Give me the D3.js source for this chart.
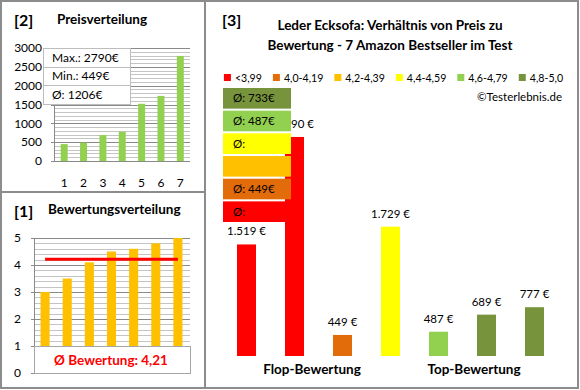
<!DOCTYPE html>
<html><head><meta charset="utf-8">
<script src="https://cdn.jsdelivr.net/npm/d3@7"></script>
<style>
body{margin:0;background:#fff}
svg{display:block}
text{font-family:Lato,"Open Sans",sans-serif;fill:#000}
</style>
</head><body><svg id="c" width="580" height="390"></svg>
<script>
// ---------- data ----------
const priceRanks = [1,2,3,4,5,6,7];
const pricesSorted = [449,487,689,777,1519,1729,2790];
const priceTicks = [0,500,1000,1500,2000,2500,3000];
const priceStatLabels = ["Max.: 2790€","Min.: 449€","Ø: 1206€"];
const ratingValues = [3.0,3.5,4.1,4.5,4.6,4.8,5.0];
const ratingTicks = [0,1,2,3,4,5];
const ratingAvg = 4.21;
const ratingAvgLabel = "Ø Bewertung: 4,21";
const productRatings = [3.0,3.5,4.1,4.5,4.6,4.8,5.0];
const productPrices = [1519,2790,449,1729,487,689,777];
const classLabels = ["<3,99","4,0-4,19","4,2-4,39","4,4-4,59","4,6-4,79","4,8-5,0"];
const classColors = ["#FF0000","#E36C0A","#FFC000","#FFFF00","#92D050","#77933C"];
const classAvgLabels = ["Ø:","Ø: 449€","","Ø:","Ø: 487€","Ø: 733€"];
const groupLabels = ["Flop-Bewertung","Top-Bewertung"];
const panelTitles = ["[2]","Preisverteilung","[1]","Bewertungsverteilung","[3]"];
const mainTitle = ["Leder Ecksofa: Verhältnis von Preis zu","Bewertung - 7 Amazon Bestseller im Test"];
const copyright = "©Testerlebnis.de";

const svg = d3.select("#c");
const frameCol = "#8c8c8c";

// ---------- frames ----------
svg.append("rect").attr("x",1).attr("y",1).attr("width",577).attr("height",387)
  .attr("fill","none").attr("stroke",frameCol).attr("stroke-width",2);
svg.append("line").attr("x1",205).attr("x2",205).attr("y1",1).attr("y2",388).attr("stroke",frameCol).attr("stroke-width",2);
svg.append("line").attr("x1",1).attr("x2",205).attr("y1",192).attr("y2",192).attr("stroke",frameCol).attr("stroke-width",2);

// ---------- panel [2] price distribution ----------
{
  const x = d3.scaleBand().domain(priceRanks).range([54.5,190]).paddingInner(0.64).paddingOuter(0.32);
  const y = d3.scaleLinear().domain([0,3000]).range([161,48]);
  const g = svg.append("g");
  g.append("text").attr("x",14).attr("y",26).attr("font-size",16).attr("font-weight","bold").text(panelTitles[0]);
  g.append("text").attr("x",57).attr("y",24).attr("font-size",13.5).attr("font-weight","bold").text(panelTitles[1]);
  g.selectAll(".mg").data(d3.range(100,3000,100).filter(v=>v%500)).join("line")
    .attr("x1",54.5).attr("x2",190).attr("y1",d=>Math.round(y(d))+0.5).attr("y2",d=>Math.round(y(d))+0.5)
    .attr("stroke","#c4c4c4").attr("stroke-width",1);
  g.selectAll(".Mg").data(priceTicks.slice(1)).join("line")
    .attr("x1",51).attr("x2",190).attr("y1",d=>Math.round(y(d))+0.5).attr("y2",d=>Math.round(y(d))+0.5)
    .attr("stroke","#8a8a8a").attr("stroke-width",1);
  g.append("line").attr("x1",54.5).attr("x2",54.5).attr("y1",48).attr("y2",161).attr("stroke","#8a8a8a");
  g.append("line").attr("x1",51).attr("x2",190).attr("y1",161.5).attr("y2",161.5).attr("stroke","#8a8a8a");
  g.selectAll(".yl").data(priceTicks).join("text")
    .attr("x",42).attr("y",d=>y(d)).attr("dy","0.35em").attr("text-anchor","end")
    .attr("font-size",12).text(d=>d);
  g.selectAll(".bar").data(pricesSorted).join("rect")
    .attr("x",(d,i)=>x(priceRanks[i])).attr("width",x.bandwidth())
    .attr("y",d=>y(d)).attr("height",d=>y(0)-y(d)).attr("fill","#92D050");
  g.selectAll(".xl").data(priceRanks).join("text")
    .attr("x",d=>x(d)+x.bandwidth()/2).attr("y",187).attr("text-anchor","middle")
    .attr("font-size",12).text(d=>d);
  const bx=43, by=48, bw=87, rh=[19,18,19];
  g.append("rect").attr("x",bx+0.5).attr("y",by+0.5).attr("width",bw).attr("height",56)
    .attr("fill","#fff").attr("stroke","#bdbdbd");
  let yy=by;
  priceStatLabels.forEach((t,i)=>{
    if(i>0) g.append("line").attr("x1",bx).attr("x2",bx+bw).attr("y1",yy+0.5).attr("y2",yy+0.5).attr("stroke","#bdbdbd");
    g.append("text").attr("x",bx+9).attr("y",yy+rh[i]/2).attr("dy","0.35em").attr("font-size",12).text(t);
    yy+=rh[i];
  });
}

// ---------- panel [1] rating distribution ----------
{
  const x = d3.scaleBand().domain(priceRanks).range([34,189]).paddingInner(0.59).paddingOuter(0.295);
  const y = d3.scaleLinear().domain([0,5]).range([373,238]);
  const g = svg.append("g");
  g.append("text").attr("x",14).attr("y",217).attr("font-size",16).attr("font-weight","bold").text(panelTitles[2]);
  g.append("text").attr("x",48).attr("y",214).attr("font-size",13.5).attr("font-weight","bold").text(panelTitles[3]);
  const minor = d3.range(0.2,5,0.2).filter(v=>Math.abs(v-Math.round(v))>0.01);
  g.selectAll(".mg").data(minor).join("line")
    .attr("x1",34).attr("x2",190).attr("y1",d=>Math.round(y(d))+0.5).attr("y2",d=>Math.round(y(d))+0.5)
    .attr("stroke","#c4c4c4");
  g.selectAll(".Mg").data(ratingTicks.slice(1)).join("line")
    .attr("x1",31).attr("x2",190).attr("y1",d=>Math.round(y(d))+0.5).attr("y2",d=>Math.round(y(d))+0.5)
    .attr("stroke","#8a8a8a");
  g.append("line").attr("x1",34.5).attr("x2",34.5).attr("y1",238).attr("y2",373).attr("stroke","#8a8a8a");
  g.append("line").attr("x1",31).attr("x2",190).attr("y1",373.5).attr("y2",373.5).attr("stroke","#8a8a8a");
  g.selectAll(".yl").data(ratingTicks).join("text")
    .attr("x",21).attr("y",d=>y(d)).attr("dy","0.35em").attr("text-anchor","end")
    .attr("font-size",12).text(d=>d);
  g.selectAll(".bar").data(ratingValues).join("rect")
    .attr("x",(d,i)=>x(priceRanks[i])).attr("width",x.bandwidth())
    .attr("y",d=>y(d)).attr("height",d=>y(0)-y(d)).attr("fill","#FFC000");
  g.append("line").attr("x1",x(1)+x.bandwidth()/2).attr("x2",x(7)+x.bandwidth()/2)
    .attr("y1",y(ratingAvg)).attr("y2",y(ratingAvg)).attr("stroke","#FF0000").attr("stroke-width",3);
  g.append("rect").attr("x",34.5).attr("y",y(1)+0.5).attr("width",156).attr("height",y(0)-y(1))
    .attr("fill","#fff").attr("stroke","#a6a6a6");
  g.append("text").attr("x",111).attr("y",(y(1)+y(0))/2+1).attr("dy","0.35em").attr("text-anchor","middle")
    .attr("font-size",13.5).attr("font-weight","bold").style("fill","#FF0000").text(ratingAvgLabel);
}

// ---------- panel [3] price vs rating ----------
{
  const g = svg.append("g");
  const cls = r => r<4?0:r<4.2?1:r<4.4?2:r<4.6?3:r<4.8?4:5;
  g.append("text").attr("x",222).attr("y",26).attr("font-size",16).attr("font-weight","bold").text(panelTitles[4]);
  mainTitle.forEach((t,i)=>g.append("text").attr("x",390).attr("y",30+i*19.5)
    .attr("text-anchor","middle").attr("font-size",13.5).attr("font-weight","bold").text(t));
  const lg = g.append("g");
  let lx=0;
  classLabels.forEach((t,i)=>{
    lg.append("rect").attr("x",lx).attr("y",74).attr("width",7).attr("height",7).attr("fill",classColors[i]);
    const tx = lg.append("text").attr("x",lx+11).attr("y",78).attr("dy","0.35em").attr("font-size",10.6).text(t);
    lx += 11 + tx.node().getComputedTextLength() + 11;
  });
  lx -= 11;
  lg.attr("transform",`translate(${393.5-lx/2},0)`);
  g.append("text").attr("x",562).attr("y",97).attr("dy","0.35em").attr("text-anchor","end").attr("font-size",11.5).text(copyright);

  const x = d3.scaleBand().domain(d3.range(productPrices.length)).range([222.5,558.5]).paddingInner(0.604).paddingOuter(0.302);
  const y = d3.scaleLinear().domain([200,3000]).range([356,119.2]);
  const fmt = v => d3.format(",")(v).replace(",",".")+" €";
  g.selectAll(".bar").data(productPrices).join("rect")
    .attr("x",(d,i)=>x(i)).attr("width",x.bandwidth())
    .attr("y",d=>y(d)).attr("height",d=>356-y(d))
    .attr("fill",(d,i)=>classColors[cls(productRatings[i])]);
  g.selectAll(".vl").data(productPrices).join("text")
    .attr("x",(d,i)=>x(i)+x.bandwidth()/2).attr("y",d=>y(d)-13).attr("dy","0.35em")
    .attr("text-anchor","middle").attr("font-size",11.5).text(fmt);
  const yb = d3.scaleBand().domain(d3.range(classLabels.length)).range([222,88]).paddingInner(0.09);
  g.selectAll(".avg").data(classLabels).join("rect")
    .attr("x",223).attr("width",68).attr("y",(d,i)=>yb(i)).attr("height",yb.bandwidth())
    .attr("fill",(d,i)=>classColors[i]);
  g.selectAll(".avgt").data(classAvgLabels).join("text")
    .attr("x",233).attr("y",(d,i)=>yb(i)+yb.bandwidth()/2).attr("dy","0.35em")
    .attr("font-size",11.5).text(d=>d);
  const gx = [312,474];
  groupLabels.forEach((t,i)=>g.append("text").attr("x",gx[i]).attr("y",369).attr("dy","0.35em")
    .attr("text-anchor","middle").attr("font-size",13.5).attr("font-weight","bold").text(t));
}
</script></body></html>
